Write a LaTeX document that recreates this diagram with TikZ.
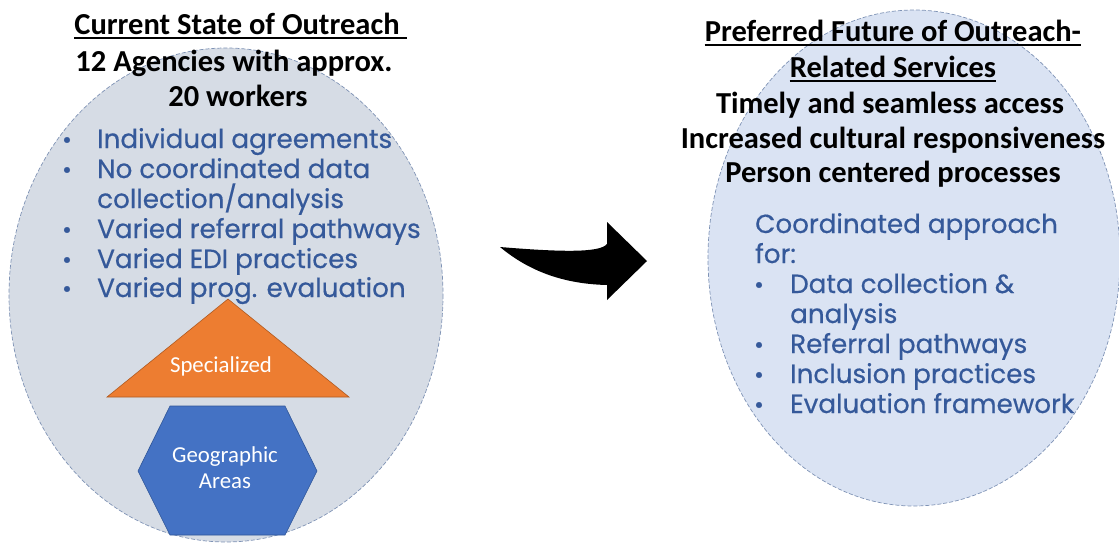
\documentclass[tikz,border=0pt]{standalone}
\usepackage{fontspec}
\setmainfont{Carlito}
\newfontfamily\bluefont[FakeBold=0.5]{Poppins}
\definecolor{leftfill}{HTML}{D6DCE5}
\definecolor{rightfill}{HTML}{DAE3F3}
\definecolor{ringline}{HTML}{7F93B5}
\definecolor{bluetext}{HTML}{35599A}
\definecolor{orangefill}{HTML}{ED7D31}
\definecolor{orangeline}{HTML}{B05A20}
\definecolor{hexfill}{HTML}{4472C4}
\definecolor{hexline}{HTML}{2F5597}
\begin{document}
\begin{tikzpicture}[x=1pt,y=-1pt,
  ring/.style={draw=ringline,dashed,line width=0.7pt,dash pattern=on 4pt off 2pt},
  headtxt/.style={anchor=base,inner sep=0pt,font=\fontsize{30.5}{34}\selectfont\bfseries,text=black},
  bl/.style={anchor=base west,inner sep=0pt,font=\bluefont\fontsize{26.2}{30}\selectfont,text=bluetext},
  dot/.style={anchor=base,inner sep=0pt,font=\bluefont\fontsize{24}{28}\selectfont,text=bluetext},
  shapetxt/.style={anchor=base,inner sep=0pt,font=\fontsize{22.8}{26}\selectfont,text=white}]
\useasboundingbox (0,0) rectangle (1119,544);
% ellipses
\draw[ring,fill=leftfill] (226,295) ellipse [x radius=217,y radius=247];
\draw[ring,fill=rightfill] (914,258) ellipse [x radius=206,y radius=248];
% arrow
\fill[black] (500,247) .. controls (560,252) and (600,253) .. (607,244) -- (607,222) -- (647,261) -- (607,300) -- (607,285) .. controls (565,284) and (530,272) .. cycle;
% left titles
\node[headtxt] (lt1) at (237,34) {Current State of Outreach};
\draw[line width=1.5pt] ([yshift=-4pt]lt1.base west) -- ([xshift=7pt,yshift=-4pt]lt1.base east);
\node[headtxt] (lt2) at (234,71) {12 Agencies with approx.};
\node[headtxt] (lt3) at (238,106) {20 workers};
% left bullets
\foreach \y/\t [count=\i] in {148/Individual agreements,178/No coordinated data,238/Varied referral pathways,268/Varied EDI practices,297/Varied prog. evaluation}{
  \node[dot] (ld\i) at (67,\y) {•};
  \node[bl] (lb\i) at (97,\y) {\t};
}
\node[bl] (lbx) at (97,208) {collection/analysis};
% triangle
\draw[fill=orangefill,draw=orangeline,line width=0.6pt] (228,299) -- (349,397) -- (107,397) -- cycle;
\node[shapetxt] (spec) at (221,372) {Specialized};
% hexagon
\draw[fill=hexfill,draw=hexline,line width=0.6pt] (170,406) -- (285,406) -- (317,471) -- (285,535) -- (170,535) -- (138,471) -- cycle;
\node[shapetxt] (geo1) at (225,462) {Geographic};
\node[shapetxt] (geo2) at (225,488) {Areas};
% right titles
\node[headtxt] (rt1) at (893,41) {Preferred Future of Outreach-};
\draw[line width=1.5pt] ([yshift=-4pt]rt1.base west) -- ([yshift=-4pt]rt1.base east);
\node[headtxt] (rt2) at (893,77) {Related Services};
\draw[line width=1.5pt] ([yshift=-4pt]rt2.base west) -- ([yshift=-4pt]rt2.base east);
\node[headtxt] (rt3) at (890,113) {Timely and seamless access};
\node[headtxt] (rt4) at (893,148) {Increased cultural responsiveness};
\node[headtxt] (rt5) at (893,182) {Person centered processes};
% right blue text
\node[bl] (rc1) at (755,233) {Coordinated approach};
\node[bl] (rc2) at (755,263) {for:};
\foreach \y/\t [count=\i] in {293/Data collection \&,353/Referral pathways,383/Inclusion practices,413/Evaluation framework}{
  \node[dot] (rd\i) at (759,\y) {•};
  \node[bl] (rb\i) at (790,\y) {\t};
}
\node[bl] (rbx) at (790,323) {analysis};
\end{tikzpicture}
\end{document}
